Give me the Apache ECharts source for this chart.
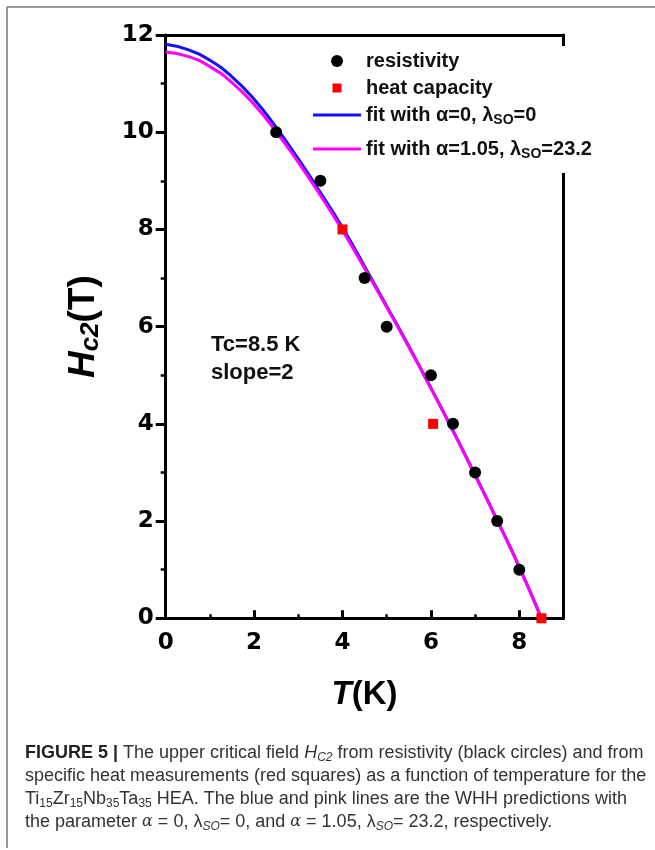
<!DOCTYPE html>
<html>
<head>
<meta charset="utf-8">
<script src="https://cdn.jsdelivr.net/npm/echarts@6/dist/echarts.min.js"></script>
<style>
  html, body { margin: 0; padding: 0; background: #fff; }
  #chart { width: 655px; height: 850px; }
</style>
</head>
<body>
<div id="chart"></div>
<script>
// measured points
let resT = [2.5, 3.5, 4.5, 5, 6, 6.5, 7, 7.5, 8]
let resH = [10, 9, 7, 6, 5, 4, 3, 2, 1]
let heatT = [4, 6.05, 8.5]
let heatH = [8, 4, 0]
// WHH fit curves
let fitT = [0, 0.5, 1, 1.5, 2, 2.5, 3, 3.5, 4, 4.5, 5, 5.5, 6, 6.5, 7, 7.5, 8, 8.5]
let fitBlue = [11.81, 11.70, 11.48, 11.14, 10.68, 10.10, 9.45, 8.76, 8.04, 7.24, 6.42, 5.60, 4.74, 3.86, 2.95, 2.02, 1.06, 0]
let fitPink = [11.65, 11.56, 11.35, 11.02, 10.57, 10.01, 9.38, 8.70, 7.98, 7.20, 6.40, 5.58, 4.73, 3.85, 2.94, 2.01, 1.05, 0]
let xTicks = [0, 2, 4, 6, 8]
let yTicks = [0, 2, 4, 6, 8, 10, 12]

let pairs = (xs, ys) => xs.map((x, i) => [x, ys[i]])

let legendNames = {
  'resistivity': 'resistivity',
  'heat capacity': 'heat capacity',
  'fit1': 'fit with α=0, λ{sub|SO}=0',
  'fit2': 'fit with α=1.05, λ{sub|SO}=23.2'
}
let legendText = {
  fontFamily: 'Liberation Sans',
  fontWeight: 'bold',
  fontSize: 20,
  color: '#111',
  lineHeight: 22,
  rich: {
    sub: { fontFamily: 'Liberation Sans', fontWeight: 'bold', fontSize: 14, color: '#111', padding: [10, 0, 0, 0] }
  }
}
// legend icons (all drawn inside a 48x12 box)
let lineIcon = 'path://M0,0M48,12M0,4.5h48v3h-48z'
let squareIcon = 'path://M0,0M12,12M1.5,1.5h9v9h-9z'

let tickFont = { fontFamily: 'DejaVu Sans', fontWeight: 'bold', fontSize: 23, color: '#000' }
let capFont = 'Liberation Sans'
let capRich = {
  b: { fontFamily: capFont, fontWeight: 'bold', fontSize: 18, fill: '#222' },
  i: { fontFamily: capFont, fontStyle: 'italic', fontSize: 18, fill: '#333' },
  is: { fontFamily: capFont, fontStyle: 'italic', fontSize: 12, fill: '#333', padding: [10, 0, 0, 0] },
  s: { fontFamily: capFont, fontSize: 12, fill: '#333', padding: [10, 0, 0, 0] },
  m: { fontFamily: 'DejaVu Serif', fontStyle: 'italic', fontSize: 16, fill: '#333' }
}
let capLines = [
  '{b|FIGURE 5 |} The upper critical field {i|H}{is|C2} from resistivity (black circles) and from',
  'specific heat measurements (red squares) as a function of temperature for the',
  'Ti{s|15}Zr{s|15}Nb{s|35}Ta{s|35} HEA. The blue and pink lines are the WHH predictions with',
  'the parameter {m|α} = 0, λ{is|SO}= 0, and {m|α} = 1.05, λ{is|SO}= 23.2, respectively.'
]
let capY = [756, 779, 802, 825]

let chart = echarts.init(document.getElementById('chart'))
chart.setOption({
  animation: false,
  backgroundColor: '#fff',
  grid: { left: 165.7, right: 91.5, top: 35, bottom: 231.7 },
  legend: [
    {
      data: [
        { name: 'resistivity', icon: 'circle' },
        { name: 'heat capacity', icon: squareIcon },
        { name: 'fit1', icon: lineIcon }
      ],
      orient: 'vertical',
      left: 313,
      top: 46,
      padding: [4, 30, 4, 0],
      itemGap: 5,
      itemWidth: 48,
      itemHeight: 12,
      backgroundColor: '#fff',
      formatter: name => legendNames[name],
      textStyle: legendText
    },
    {
      data: [{ name: 'fit2', icon: lineIcon }],
      orient: 'vertical',
      left: 313,
      top: 130,
      padding: [8, 8, 12, 0],
      itemWidth: 48,
      itemHeight: 12,
      backgroundColor: '#fff',
      formatter: name => legendNames[name],
      textStyle: legendText
    }
  ],
  xAxis: [
    {
      type: 'value',
      min: 0,
      max: 9,
      interval: 2,
      name: '{t|T}{k|(K)}',
      nameLocation: 'middle',
      nameGap: 60,
      nameTextStyle: {
        rich: {
          t: { fontFamily: 'Liberation Sans', fontWeight: 'bold', fontStyle: 'italic', fontSize: 33, color: '#000' },
          k: { fontFamily: 'Liberation Sans', fontWeight: 'bold', fontSize: 33, color: '#000' }
        }
      },
      axisLine: { lineStyle: { color: '#000', width: 3 } },
      axisTick: { inside: true, length: 8, lineStyle: { color: '#000', width: 3 } },
      minorTick: { show: true, splitNumber: 2, length: 4, lineStyle: { color: '#000', width: 2.5 } },
      axisLabel: Object.assign({ margin: 13, showMaxLabel: false, formatter: v => xTicks.includes(v) ? String(v) : '' }, tickFont),
      splitLine: { show: false }
    },
    {
      type: 'value',
      min: 0,
      max: 9,
      position: 'top',
      axisLine: { onZero: false, lineStyle: { color: '#000', width: 3 } },
      axisTick: { show: false },
      axisLabel: { show: false },
      splitLine: { show: false }
    }
  ],
  yAxis: [
    {
      type: 'value',
      min: 0,
      max: 12,
      interval: 2,
      name: '{h|H}{s|c2}{n|(T)}',
      nameLocation: 'middle',
      nameGap: 62,
      nameTextStyle: {
        rich: {
          h: { fontFamily: 'Liberation Sans', fontWeight: 'bold', fontStyle: 'italic', fontSize: 37, color: '#000' },
          s: { fontFamily: 'Liberation Sans', fontWeight: 'bold', fontStyle: 'italic', fontSize: 26, color: '#000', padding: [14, 0, 0, 0] },
          n: { fontFamily: 'Liberation Sans', fontWeight: 'bold', fontSize: 37, color: '#000' }
        }
      },
      axisLine: { lineStyle: { color: '#000', width: 3 } },
      axisTick: { inside: false, length: 10, lineStyle: { color: '#000', width: 3 } },
      minorTick: { show: true, splitNumber: 2, length: 5, lineStyle: { color: '#000', width: 2.5 } },
      axisLabel: Object.assign({ margin: 12, formatter: v => yTicks.includes(v) ? String(v) : '' }, tickFont),
      splitLine: { show: false }
    },
    {
      type: 'value',
      min: 0,
      max: 12,
      position: 'right',
      axisLine: { onZero: false, lineStyle: { color: '#000', width: 3 } },
      axisTick: { show: false },
      axisLabel: { show: false },
      splitLine: { show: false }
    }
  ],
  series: [
    {
      name: 'fit1',
      type: 'line',
      data: pairs(fitT, fitBlue),
      smooth: true,
      symbol: 'none',
      color: '#1010ff',
      lineStyle: { color: '#1010ff', width: 3 },
      z: 2
    },
    {
      name: 'fit2',
      type: 'line',
      data: pairs(fitT, fitPink),
      smooth: true,
      symbol: 'none',
      color: '#ff00ff',
      lineStyle: { color: '#ff00ff', width: 3 },
      z: 3
    },
    {
      name: 'resistivity',
      type: 'scatter',
      data: pairs(resT, resH),
      symbol: 'circle',
      symbolSize: 12,
      itemStyle: { color: '#000', opacity: 1 },
      z: 4
    },
    {
      name: 'heat capacity',
      type: 'scatter',
      data: pairs(heatT, heatH),
      symbol: 'rect',
      symbolSize: 10,
      itemStyle: { color: '#ff0000', opacity: 1 },
      z: 4
    }
  ],
  graphic: [
    { type: 'line', shape: { x1: 7, y1: 7, x2: 655, y2: 7 }, style: { stroke: '#777', lineWidth: 1.5 } },
    { type: 'line', shape: { x1: 7, y1: 7, x2: 7, y2: 848 }, style: { stroke: '#777', lineWidth: 1.5 } },
    { type: 'text', left: 211, top: 334, style: { text: 'Tc=8.5 K', font: 'bold 22px "Liberation Sans"', fill: '#111' } },
    { type: 'text', left: 211, top: 362, style: { text: 'slope=2', font: 'bold 22px "Liberation Sans"', fill: '#111' } }
  ].concat(capLines.map((t, i) => ({
    type: 'text',
    left: 25,
    top: capY[i] - 12,
    style: { text: t, font: '18px "Liberation Sans"', fill: '#333', rich: capRich }
  })))
})
</script>
</body>
</html>
